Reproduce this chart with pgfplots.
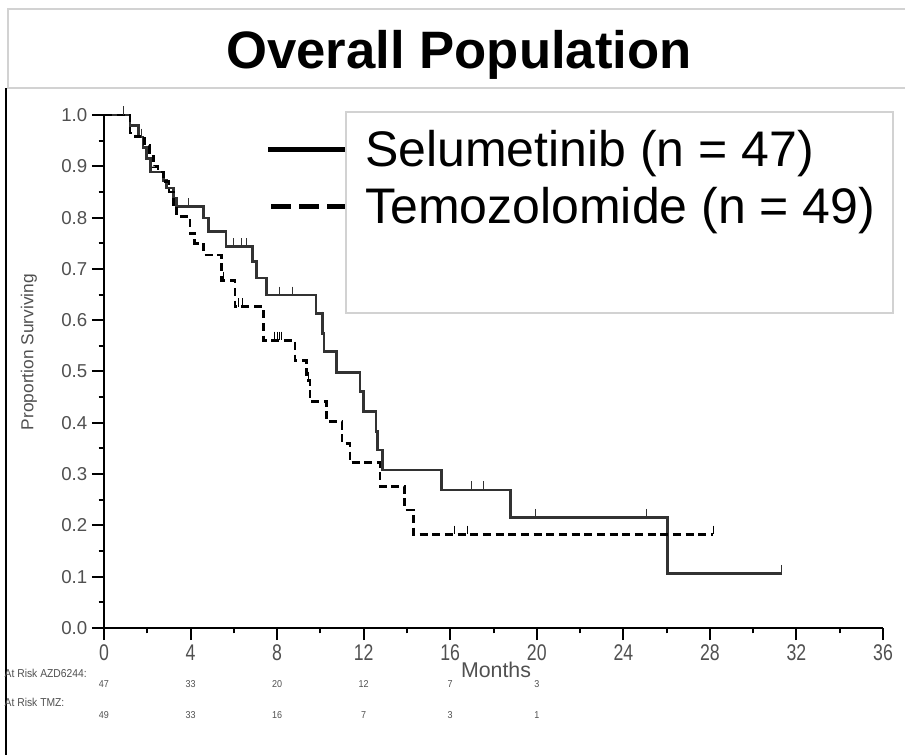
\documentclass[border=0pt]{standalone}
\usepackage{pgfplots}
\pgfplotsset{compat=1.18}
\usepackage{fontspec}
\setmainfont{Liberation Sans}
\newfontfamily\tickfont[FakeStretch=0.78]{Liberation Sans}
\newfontfamily\riskfont[FakeStretch=0.9]{Liberation Sans}
\definecolor{tk}{RGB}{80,80,80}
\definecolor{sel}{RGB}{50,50,50}
\definecolor{boxgray}{RGB}{210,210,210}

\begin{document}
\begin{tikzpicture}
\begin{scope}[x=0.75pt,y=0.75pt]
\path[use as bounding box] (0,0) rectangle (905,755);
\draw[boxgray, line width=1.2pt] (8,667) rectangle (906,746);
\node[font=\fontsize{39.5pt}{44pt}\selectfont\bfseries] at (459,700) {Overall Population};
\draw[black, line width=1.8pt] (6,0) -- (6,667);
\node[rotate=90, text=tk, font=\fontsize{13pt}{15pt}\selectfont] at (29,403) {Proportion Surviving};
\node[text=tk, font=\fontsize{16pt}{18pt}\selectfont] at (496,85) {Months};
\node[anchor=west, text=tk, font=\riskfont\fontsize{8.6pt}{10pt}\selectfont] at (0,82) {At Risk AZD6244:};
\node[anchor=west, text=tk, font=\riskfont\fontsize{8.6pt}{10pt}\selectfont] at (0,53) {At Risk TMZ:};
\end{scope}

\begin{axis}[
  at={(78pt,95.25pt)}, anchor=south west,
  scale only axis, width=584.25pt, height=384.75pt,
  xmin=0, xmax=36, ymin=0, ymax=1,
  axis lines=left,
  axis line style={-, line width=2.2pt},
  xtick={0,4,...,36}, minor xtick={2,6,...,34},
  ytick={0,0.1,...,1.0}, minor ytick={0.05,0.15,...,0.95},
  tick align=outside,
  major tick length=9pt, minor tick length=4pt,
  every tick/.style={black, line width=1.5pt},
  yticklabel style={text=tk, font=\fontsize{14pt}{16pt}\selectfont, /pgf/number format/fixed, /pgf/number format/fixed zerofill, /pgf/number format/precision=1},
  xticklabel style={text=tk, font=\tickfont\fontsize{17pt}{19pt}\selectfont},
  /pgf/number format/assume math mode=true,
  clip=false,
]
% Selumetinib (solid)
\addplot[const plot, color=sel, line width=2pt] coordinates {
(0,1.0) (1.2,0.979) (1.59,0.957) (1.8,0.936) (1.95,0.915) (2.15,0.889)
(2.74,0.872) (2.9,0.858) (3.2,0.838) (3.36,0.821) (4.59,0.799) (4.82,0.773)
(5.64,0.743) (6.86,0.714) (7.05,0.682) (7.5,0.649) (9.8,0.613) (10.1,0.574)
(10.17,0.539) (10.75,0.498) (11.83,0.461) (12.0,0.4216) (12.57,0.383)
(12.63,0.347) (12.87,0.308) (15.6,0.269) (18.79,0.2157) (26.03,0.1066) (31.32,0.1066)
};
\addplot[only marks, mark=|, color=sel, mark size=3.2pt, mark options={line width=0.7pt, yshift=3.2pt}] coordinates {
(0.92,1.0) (1.75,0.957) (3.9,0.821) (5.97,0.743) (6.36,0.743) (6.59,0.743)
(8.13,0.649) (8.7,0.649) (10.09,0.6) (17.0,0.269) (17.55,0.269)
(19.96,0.2157) (25.05,0.2157) (31.32,0.1066)
};
% Temozolomide (dashed)
\addplot[const plot, color=black, line width=2.1pt, dash pattern=on 6pt off 3.5pt] coordinates {
(0,1.0) (1.2,0.965) (1.43,0.958) (1.89,0.94) (2.1,0.92) (2.3,0.899) (2.5,0.889)
(2.74,0.87) (3.0,0.85) (3.2,0.821) (3.36,0.802) (3.97,0.769) (4.2,0.75)
(4.6,0.727) (5.44,0.678) (6.05,0.626) (7.36,0.561) (8.83,0.522) (9.37,0.483)
(9.52,0.441) (10.3,0.402) (11.0,0.36) (11.37,0.322) (12.75,0.276) (13.9,0.23)
(14.3,0.183) (28.15,0.183)
};
\addplot[only marks, mark=|, color=black, mark size=3.2pt, mark options={line width=0.7pt, yshift=3.2pt}] coordinates {
(5.5,0.678) (6.2,0.626) (6.4,0.626) (7.9,0.561) (8.0,0.561) (8.1,0.561) (8.2,0.561)
(9.45,0.483) (16.2,0.183) (16.8,0.183) (28.15,0.183)
};
% at-risk numbers
\foreach \xx/\nn in {0/47,4/33,8/20,12/12,16/7,20/3}{
  \edef\tmp{\noexpand\node[text=tk, font=\noexpand\riskfont\noexpand\fontsize{7.5pt}{9pt}\noexpand\selectfont] at (axis cs:\xx,-0.11) {\nn};}
  \tmp
}
\foreach \xx/\nn in {0/49,4/33,8/16,12/7,16/3,20/1}{
  \edef\tmp{\noexpand\node[text=tk, font=\noexpand\riskfont\noexpand\fontsize{7.5pt}{9pt}\noexpand\selectfont] at (axis cs:\xx,-0.17) {\nn};}
  \tmp
}
\end{axis}

\begin{scope}[x=0.75pt,y=0.75pt]
\draw[boxgray, line width=0.9pt, fill=white] (346,643) rectangle (893,442);
\draw[black, line width=3.75pt] (268,605) -- (345,605);
\draw[black, line width=3.75pt, dash pattern=on 15pt off 6pt] (271,548) -- (345,548);
\node[anchor=west, font=\fontsize{37.5pt}{40pt}\selectfont, inner sep=0pt] at (365,601) {Selumetinib (n = 47)};
\node[anchor=west, font=\fontsize{37.5pt}{40pt}\selectfont, inner sep=0pt] at (365,544) {Temozolomide (n = 49)};
\end{scope}
\end{tikzpicture}
\end{document}
